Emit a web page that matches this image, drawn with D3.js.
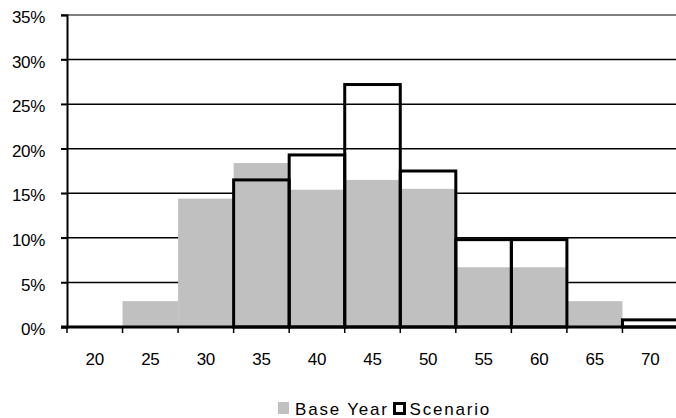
<!DOCTYPE html>
<html>
<head>
<meta charset="utf-8">
<script src="https://cdn.jsdelivr.net/npm/d3@7"></script>
<style>
  html, body { margin: 0; padding: 0; background: #fff; }
  svg { display: block; }
  text { font-family: "Liberation Sans", Arial, sans-serif; fill: #000; }
</style>
</head>
<body>
<svg id="chart" width="676" height="418"></svg>
<script>
// Age-group distribution: base year vs. scenario
const categories = ["20", "25", "30", "35", "40", "45", "50", "55", "60", "65", "70"];
const baseYear   = [0, 2.9, 14.4, 18.4, 15.4, 16.5, 15.5, 6.7, 6.7, 2.9, 0];
const scenario   = [0, 0, 0, 16.5, 19.3, 27.2, 17.5, 9.8, 9.8, 0, 0.8];
const yTicks     = [0, 5, 10, 15, 20, 25, 30, 35];

const svg = d3.select("#chart");
const margin = { left: 67, top: 15, right: -2, bottom: 91 };
const W = 676, H = 418;
const plotW = W - margin.left - margin.right;
const plotH = H - margin.top - margin.bottom;
const FONT = "Liberation Sans, Arial, sans-serif";

const x = d3.scaleBand().domain(categories).range([0, plotW]).padding(0);
const y = d3.scaleLinear().domain([0, 35]).range([plotH, 0]);

const g = svg.append("g").attr("transform", `translate(${margin.left},${margin.top})`);

// horizontal gridlines (the top one is grey)
g.append("g").selectAll("line")
  .data(yTicks.filter(t => t > 0))
  .join("line")
  .attr("x1", -6).attr("x2", plotW)
  .attr("y1", d => y(d)).attr("y2", d => y(d))
  .attr("stroke", d => d === 35 ? "#808080" : "#000")
  .attr("stroke-width", d => d === 35 ? 2 : 1.5);

// base year: solid grey bars
g.append("g").selectAll("rect")
  .data(categories.map((c, i) => ({ c, v: baseYear[i] })).filter(d => d.v > 0))
  .join("rect")
  .attr("x", d => x(d.c))
  .attr("y", d => y(d.v))
  .attr("width", x.bandwidth())
  .attr("height", d => y(0) - y(d.v))
  .attr("fill", "#c0c0c0");

// scenario: black outlined bars
g.append("g").selectAll("rect")
  .data(categories.map((c, i) => ({ c, v: scenario[i] })).filter(d => d.v > 0))
  .join("rect")
  .attr("x", d => x(d.c))
  .attr("y", d => y(d.v))
  .attr("width", x.bandwidth())
  .attr("height", d => y(0) - y(d.v))
  .attr("fill", "none")
  .attr("stroke", "#000")
  .attr("stroke-width", 3);

// y axis
const yAxis = g.append("g")
  .call(d3.axisLeft(y).tickValues(yTicks).tickFormat(d => d + "%").tickSize(6).tickPadding(16));
yAxis.select(".domain").attr("stroke", "#000").attr("stroke-width", 2);
yAxis.selectAll(".tick line").attr("stroke", "#000").attr("stroke-width", 1.5);
yAxis.selectAll("text").attr("font-size", 17).attr("fill", "#000")
  .attr("font-family", FONT).attr("letter-spacing", -0.3).attr("dy", "0.45em");

// x axis
const xAxis = g.append("g").attr("transform", `translate(0,${plotH})`)
  .call(d3.axisBottom(x).tickSize(0).tickPadding(26));
xAxis.select(".domain").remove();
xAxis.selectAll("text").attr("font-size", 17).attr("fill", "#000")
  .attr("font-family", FONT).attr("letter-spacing", -0.3);

// x tick marks at band boundaries
g.append("g").selectAll("line")
  .data(categories)
  .join("line")
  .attr("x1", d => x(d)).attr("x2", d => x(d))
  .attr("y1", plotH).attr("y2", plotH + 6)
  .attr("stroke", "#000").attr("stroke-width", 1.5);

// baseline
g.append("line")
  .attr("x1", -6).attr("x2", plotW)
  .attr("y1", plotH).attr("y2", plotH)
  .attr("stroke", "#000").attr("stroke-width", 3);

// legend
const lg = svg.append("g");
lg.append("rect").attr("x", 278).attr("y", 402).attr("width", 11).attr("height", 12).attr("fill", "#c0c0c0");
lg.append("text").attr("x", 295).attr("y", 415).attr("font-size", 17).attr("letter-spacing", 1.8)
  .attr("font-family", FONT).text("Base Year");
lg.append("rect").attr("x", 394.5).attr("y", 403.5).attr("width", 10).attr("height", 10)
  .attr("fill", "none").attr("stroke", "#000").attr("stroke-width", 3);
lg.append("text").attr("x", 409.5).attr("y", 415).attr("font-size", 17).attr("letter-spacing", 1.8)
  .attr("font-family", FONT).text("Scenario");
</script>
</body>
</html>
